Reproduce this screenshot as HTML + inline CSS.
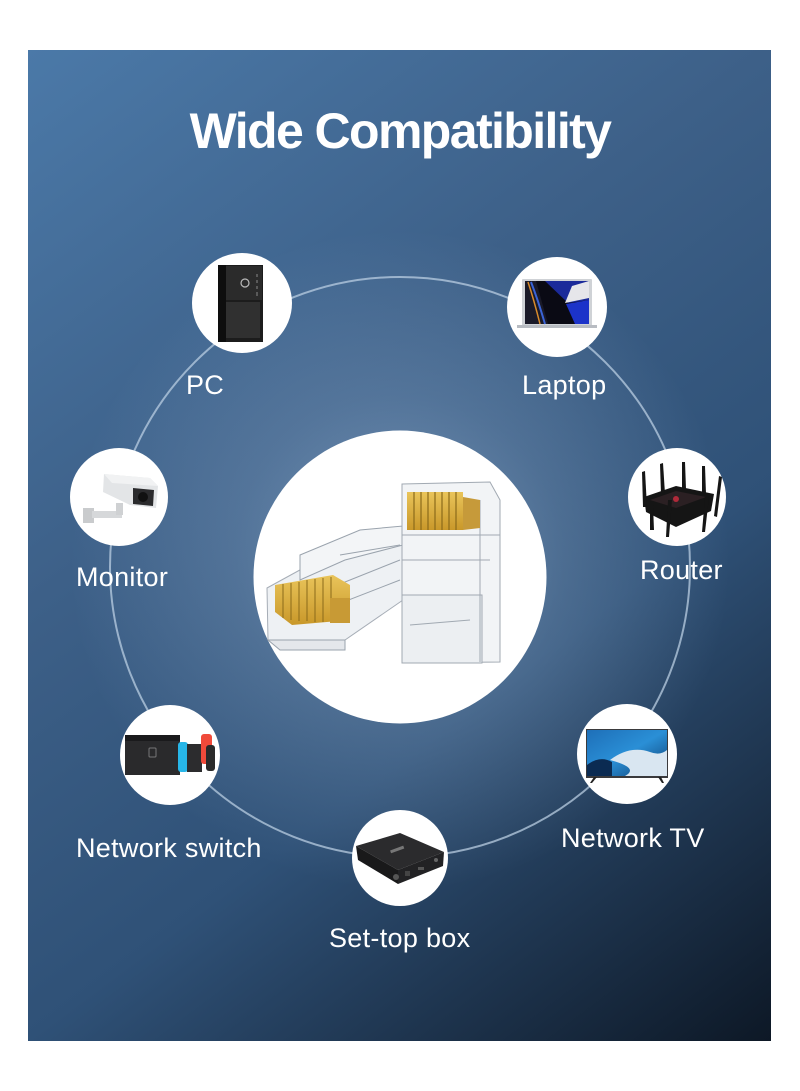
<!DOCTYPE html>
<html>
<head>
<meta charset="utf-8">
<style>
  html,body{margin:0;padding:0;background:#ffffff;}
  body{width:800px;height:1091px;overflow:hidden;}
  svg{display:block;}
  .lbl{font-family:"Liberation Sans",Arial,sans-serif;font-size:27px;fill:#ffffff;letter-spacing:0.3px;}
  .ttl{font-family:"Liberation Sans",Arial,sans-serif;font-size:50px;font-weight:bold;fill:#ffffff;letter-spacing:-1.6px;}
</style>
</head>
<body>
<svg width="800" height="1091" viewBox="0 0 800 1091" xmlns="http://www.w3.org/2000/svg">
  <defs>
    <linearGradient id="bg" gradientUnits="userSpaceOnUse" x1="28" y1="50" x2="771" y2="1041">
      <stop offset="0" stop-color="#4b79a8"/>
      <stop offset="0.36" stop-color="#3d6088"/>
      <stop offset="0.64" stop-color="#2f5177"/>
      <stop offset="1" stop-color="#0d1826"/>
    </linearGradient>
    <radialGradient id="glow" gradientUnits="userSpaceOnUse" cx="400" cy="560" r="330">
      <stop offset="0" stop-color="#a9c4e2" stop-opacity="0.55"/>
      <stop offset="0.5" stop-color="#a9c4e2" stop-opacity="0.22"/>
      <stop offset="1" stop-color="#a9c4e2" stop-opacity="0"/>
    </radialGradient>
    <linearGradient id="tvg" x1="0" y1="0" x2="1" y2="1">
      <stop offset="0" stop-color="#1e6fb8"/>
      <stop offset="0.5" stop-color="#2a8fd6"/>
      <stop offset="1" stop-color="#0d3d70"/>
    </linearGradient>
    <linearGradient id="gold" x1="0" y1="0" x2="0" y2="1">
      <stop offset="0" stop-color="#e9c45a"/>
      <stop offset="1" stop-color="#c9982a"/>
    </linearGradient>
  </defs>

  <!-- panel -->
  <rect x="28" y="50" width="743" height="991" fill="url(#bg)"/>
  <rect x="28" y="50" width="743" height="991" fill="url(#glow)"/>

  <!-- title -->
  <text class="ttl" x="400" y="148" text-anchor="middle">Wide Compatibility</text>

  <!-- ring -->
  <circle cx="400" cy="567" r="290" fill="none" stroke="#b9cde2" stroke-opacity="0.75" stroke-width="2"/>

  <!-- center circle -->
  <circle cx="400" cy="577" r="146.5" fill="#ffffff"/>

  <!-- RJ45 connectors -->
  <g stroke="#9aa3ad" stroke-width="1" fill="none">
    <!-- lying connector -->
    <polygon points="267,588 340,548 403,530 403,600 345,640 268,640" fill="#eef1f4" stroke="#a6adb6"/>
    <polygon points="300,555 360,530 403,526 403,545 345,560 300,580" fill="#f3f5f7"/>
    <polygon points="268,640 345,640 345,650 280,650" fill="#e4e7eb"/>
    <line x1="300" y1="600" x2="400" y2="560"/>
    <line x1="310" y1="615" x2="400" y2="580"/>
    <line x1="340" y1="555" x2="400" y2="545"/>
  </g>
  <!-- lying gold pins -->
  <g>
    <polygon points="275,585 333,575 350,585 350,620 292,625 275,612" fill="url(#gold)"/>
    <g stroke="#8a6a1a" stroke-width="1">
      <line x1="283" y1="584" x2="283" y2="618"/>
      <line x1="291" y1="583" x2="291" y2="620"/>
      <line x1="299" y1="582" x2="299" y2="621"/>
      <line x1="307" y1="580" x2="307" y2="621"/>
      <line x1="315" y1="579" x2="315" y2="622"/>
      <line x1="323" y1="578" x2="323" y2="622"/>
      <line x1="331" y1="577" x2="331" y2="623"/>
    </g>
    <rect x="330" y="598" width="20" height="25" fill="#c89a35"/>
  </g>
  <!-- upright connector -->
  <g stroke="#a1a9b2" stroke-width="1">
    <polygon points="402,484 490,482 500,500 500,662 402,663" fill="#f2f4f6"/>
    <rect x="402" y="595" width="80" height="68" fill="#eceff2"/>
    <line x1="402" y1="535" x2="500" y2="535"/>
    <line x1="402" y1="560" x2="490" y2="560"/>
    <line x1="410" y1="625" x2="470" y2="620"/>
    <line x1="480" y1="500" x2="480" y2="662"/>
  </g>
  <g>
    <rect x="407" y="492" width="56" height="38" fill="url(#gold)"/>
    <g stroke="#8a6a1a" stroke-width="1.2">
      <line x1="414" y1="492" x2="414" y2="530"/>
      <line x1="421" y1="492" x2="421" y2="530"/>
      <line x1="428" y1="492" x2="428" y2="530"/>
      <line x1="435" y1="492" x2="435" y2="530"/>
      <line x1="442" y1="492" x2="442" y2="530"/>
      <line x1="449" y1="492" x2="449" y2="530"/>
      <line x1="456" y1="492" x2="456" y2="530"/>
    </g>
    <polygon points="463,497 480,500 480,528 463,530" fill="#c69a3a"/>
  </g>

  <!-- node circles -->
  <circle cx="242" cy="303" r="50" fill="#ffffff"/>
  <circle cx="557" cy="307" r="50" fill="#ffffff"/>
  <circle cx="119" cy="497" r="49" fill="#ffffff"/>
  <circle cx="677" cy="497" r="49" fill="#ffffff"/>
  <circle cx="170" cy="755" r="50" fill="#ffffff"/>
  <circle cx="627" cy="754" r="50" fill="#ffffff"/>
  <circle cx="400" cy="858" r="48" fill="#ffffff"/>

  <!-- PC tower -->
  <g>
    <rect x="218" y="265" width="45" height="77" fill="#1c1c1c"/>
    <rect x="218" y="265" width="8" height="77" fill="#0e0e0e"/>
    <rect x="226" y="266" width="36" height="34" fill="#2b2b2b"/>
    <rect x="226" y="302" width="34" height="36" fill="#303030"/>
    <circle cx="245" cy="283" r="4" fill="none" stroke="#bbbbbb" stroke-width="1.2"/>
    <g stroke="#888" stroke-width="1">
      <line x1="257" y1="274" x2="257" y2="277"/>
      <line x1="257" y1="280" x2="257" y2="283"/>
      <line x1="257" y1="286" x2="257" y2="289"/>
      <line x1="257" y1="292" x2="257" y2="296"/>
    </g>
  </g>

  <!-- Laptop -->
  <g>
    <rect x="522" y="279" width="70" height="47" fill="#cfd2d6" rx="1"/>
    <rect x="525" y="281" width="64" height="43" fill="#0a0a14"/>
    <polygon points="525,281 536,281 548,324 525,324" fill="#1a1a28"/>
    <path d="M528,282 Q534,300 540,324" stroke="#d98b2b" stroke-width="1.5" fill="none"/>
    <path d="M531,282 Q538,300 545,324" stroke="#3a63d6" stroke-width="2" fill="none"/>
    <polygon points="545,281 589,281 589,300 568,303" fill="#1b2a9a"/>
    <polygon points="572,286 589,281 589,298 565,303" fill="#e6e6ea"/>
    <polygon points="566,304 589,300 589,324 575,324" fill="#1c33c9"/>
    <rect x="517" y="325" width="80" height="3" fill="#b8bcc2"/>
  </g>

  <!-- Security camera (Monitor) -->
  <g>
    <polygon points="83,508 94,508 94,523 83,523" fill="#c9cbcd"/>
    <rect x="92" y="511" width="30" height="7" fill="#d6d8da"/>
    <rect x="116" y="503" width="7" height="12" fill="#cfd1d3"/>
    <polygon points="104,474 150,478 158,486 156,508 130,505 103,492" fill="#e3e5e7"/>
    <polygon points="104,474 150,478 158,486 112,483" fill="#f1f2f3"/>
    <polygon points="133,488 154,490 153,506 133,504" fill="#2b2b2d"/>
    <circle cx="143" cy="497" r="5" fill="#111"/>
  </g>

  <!-- Router -->
  <g fill="#151515">
    <polygon points="644,497 676,486 714,494 711,511 676,527 646,512"/>
    <polygon points="650,500 676,491 706,497 676,508" fill="#2b2023"/>
    <polygon points="642,472 645,471 647,507 643,507"/>
    <polygon points="660,464 663,463 665,494 661,494"/>
    <polygon points="682,462 685,462 686,489 682,489"/>
    <polygon points="702,466 705,466 706,494 702,494"/>
    <polygon points="719,476 722,477 717,517 714,516"/>
    <polygon points="668,500 672,500 669,537 666,537"/>
    <polygon points="705,497 709,497 705,532 702,532"/>
    <polygon points="650,505 653,505 654,530 650,530"/>
    <circle cx="676" cy="499" r="3" fill="#b02a3a"/>
  </g>

  <!-- Switch console -->
  <g>
    <rect x="125" y="735" width="55" height="40" fill="#2a2a2c"/>
    <rect x="125" y="735" width="55" height="6" fill="#1a1a1c"/>
    <rect x="149" y="748" width="7" height="9" rx="1" fill="none" stroke="#777" stroke-width="1"/>
    <rect x="178" y="742" width="10" height="30" rx="3" fill="#27b6e8"/>
    <rect x="187" y="744" width="15" height="28" fill="#2c2c2e"/>
    <rect x="201" y="734" width="11" height="30" rx="3" fill="#f04a3a"/>
    <rect x="206" y="745" width="9" height="26" rx="3" fill="#2a2a2a"/>
  </g>

  <!-- TV -->
  <g>
    <rect x="586" y="729" width="82" height="49" fill="#3a3a3c"/>
    <rect x="587" y="730" width="80" height="46" fill="url(#tvg)"/>
    <path d="M610,760 Q630,745 650,752 Q660,756 667,750 L667,776 L625,776 Q640,768 610,760 Z" fill="#d9e6f1"/>
    <path d="M587,765 Q600,755 612,762 L612,776 L587,776 Z" fill="#0b2b52"/>
    <polygon points="594,777 597,777 592,783 590,783" fill="#222"/>
    <polygon points="658,777 661,777 664,783 662,783" fill="#222"/>
  </g>

  <!-- Set-top box -->
  <g>
    <polygon points="356,846 400,833 444,852 398,870" fill="#2b2b2d"/>
    <polygon points="356,846 398,870 398,884 358,860" fill="#19191a"/>
    <polygon points="398,870 444,852 443,866 398,884" fill="#222224"/>
    <rect x="390" y="848" width="14" height="3" fill="#777" transform="rotate(-20 397 849)"/>
    <circle cx="396" cy="877" r="3" fill="#555"/>
    <rect x="405" y="871" width="5" height="5" fill="#444"/>
    <rect x="418" y="867" width="6" height="3" fill="#555"/>
    <circle cx="436" cy="860" r="2" fill="#666"/>
  </g>

  <!-- labels -->
  <text class="lbl" x="186" y="394">PC</text>
  <text class="lbl" x="522" y="394">Laptop</text>
  <text class="lbl" x="76" y="586">Monitor</text>
  <text class="lbl" x="640" y="579">Router</text>
  <text class="lbl" x="76" y="857">Network switch</text>
  <text class="lbl" x="561" y="847">Network TV</text>
  <text class="lbl" x="329" y="947">Set-top box</text>
</svg>
</body>
</html>
